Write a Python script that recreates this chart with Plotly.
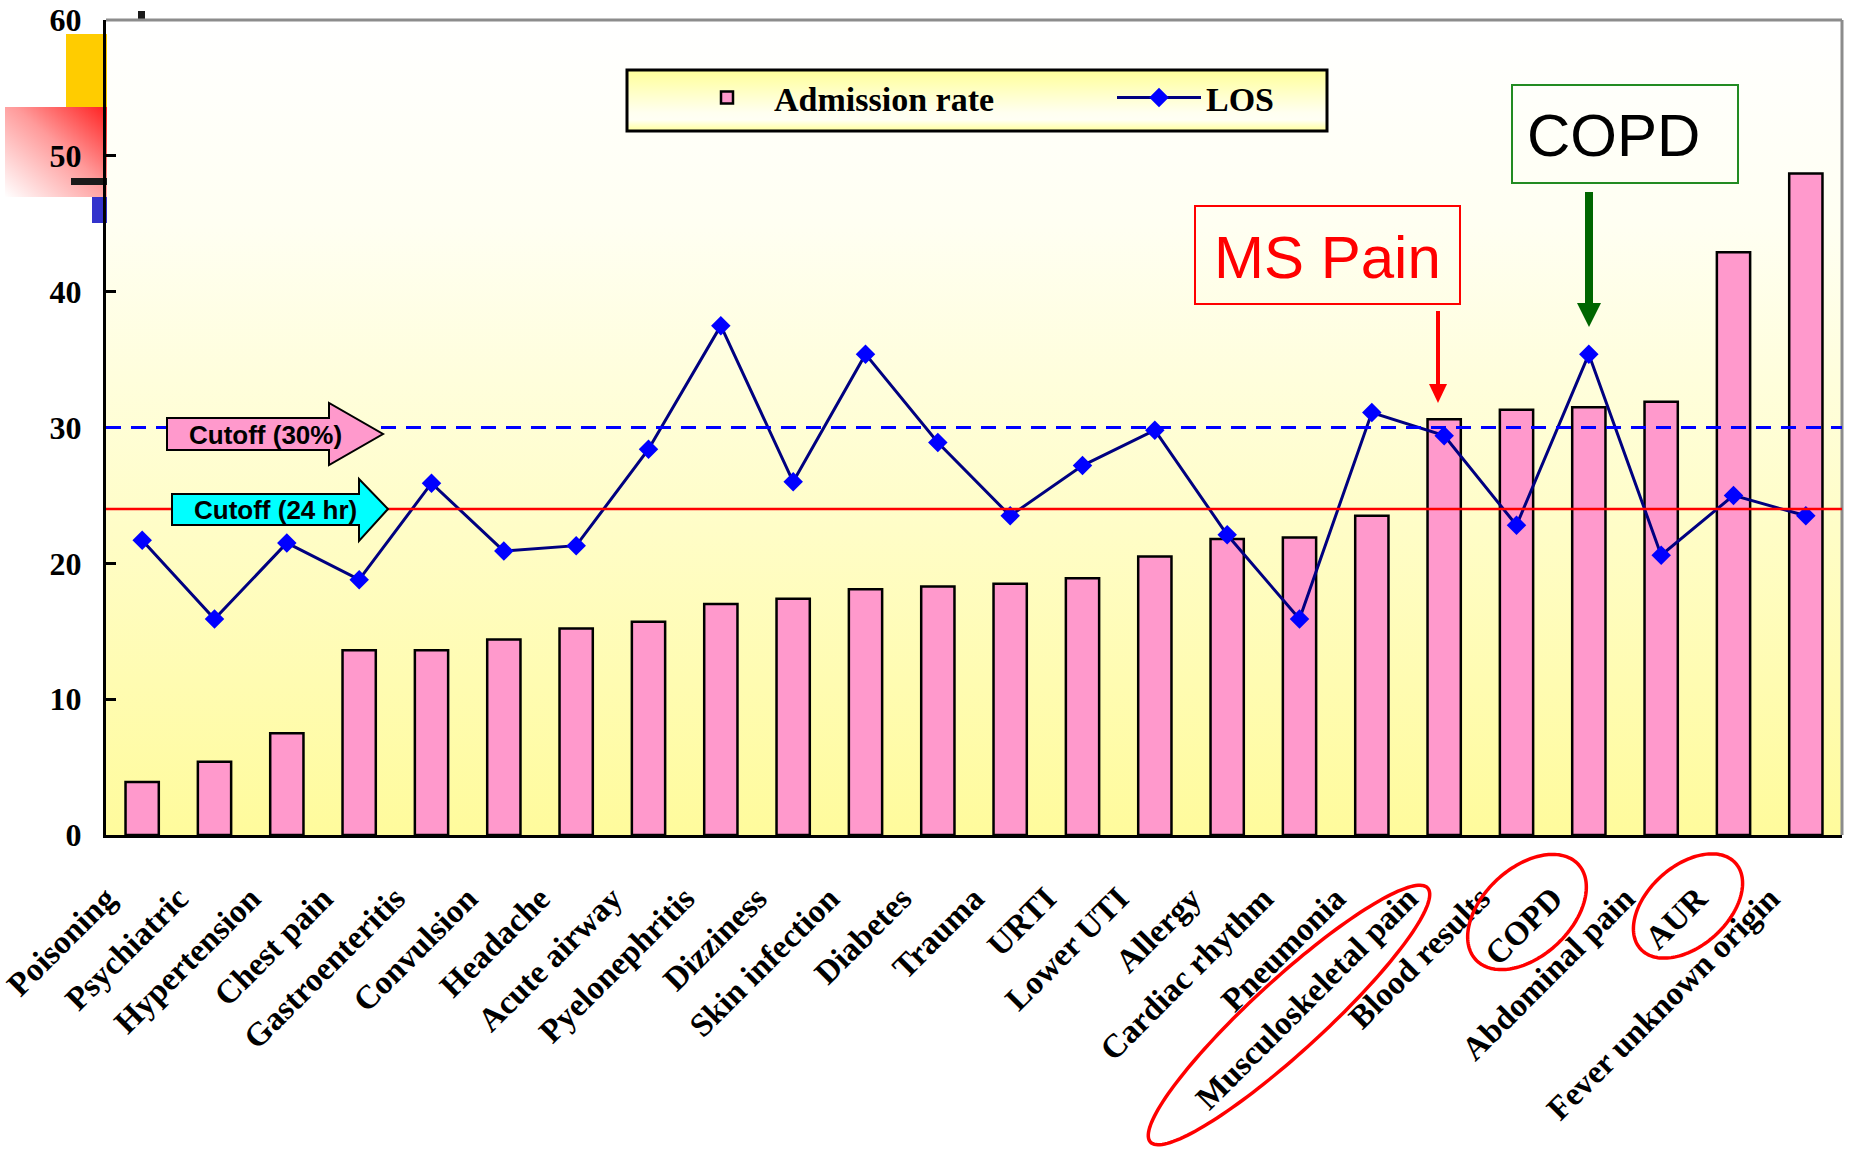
import base64
import numpy as np
import plotly.graph_objects as go

# ---------------- data ----------------
categories = [
    "Poisoning", "Psychiatric", "Hypertension", "Chest pain", "Gastroenteritis",
    "Convulsion", "Headache", "Acute airway", "Pyelonephritis", "Dizziness",
    "Skin infection", "Diabetes", "Trauma", "URTI", "Lower UTI", "Allergy",
    "Cardiac rhythm", "Pneumonia", "Musculoskeletal pain", "Blood results",
    "COPD", "Abdominal pain", "AUR", "Fever unknown origin",
]
admission_rate = [3.9, 5.4, 7.5, 13.6, 13.6, 14.4, 15.2, 15.7, 17.0, 17.4, 18.1, 18.3,
                  18.5, 18.9, 20.5, 21.8, 21.9, 23.5, 30.6, 31.3, 31.5, 31.9, 42.9, 48.7]
los_hours = [21.7, 15.9, 21.5, 18.8, 25.9, 20.9, 21.3, 28.4, 37.5, 26.0, 35.4, 28.9,
             23.5, 27.2, 29.8, 22.1, 15.9, 31.1, 29.4, 22.8, 35.4, 20.6, 25.0, 23.5]
cutoff_rate = 30
cutoff_hours = 24
y_ticks = [0, 10, 20, 30, 40, 50, 60]

# ---------------- canvas geometry (pixels) ----------------
W, H = 1854, 1153
ML, MR, MT, MB = 106, 12, 20, 318
PW, PH = W - ML - MR, H - MT - MB


def px(x):
    return (x - ML) / PW


def py(y):
    return (H - MB - y) / PH


def svg_uri(body):
    svg = ('<svg xmlns="http://www.w3.org/2000/svg" width="100" height="100" '
           'viewBox="0 0 100 100" preserveAspectRatio="none">' + body + '</svg>')
    return "data:image/svg+xml;base64," + base64.b64encode(svg.encode()).decode()


def poly(points):
    pts = [f"{px(x):.5f},{py(y):.5f}" for x, y in points]
    return "M " + " L ".join(pts) + " Z"


def ellipse(cx, cy, a, b, deg, n=160):
    t = np.linspace(0, 2 * np.pi, n, endpoint=False)
    th = np.radians(deg)
    xs = cx + a * np.cos(t) * np.cos(th) - b * np.sin(t) * np.sin(th)
    ys = cy - a * np.cos(t) * np.sin(th) - b * np.sin(t) * np.cos(th)
    return poly(zip(xs, ys))


SERIF = "Liberation Serif"
SANS = "Liberation Sans"

# ---------------- gradient fills ----------------
plot_bg = svg_uri(
    '<defs><linearGradient id="g" x1="0" y1="0" x2="0" y2="1">'
    '<stop offset="0" stop-color="#FFFFFF"/><stop offset="0.25" stop-color="#FFFFF2"/>'
    '<stop offset="1" stop-color="#FFFB9C"/></linearGradient></defs>'
    '<rect width="100" height="100" fill="url(#g)"/>')
legend_bg = svg_uri(
    '<defs><linearGradient id="g" x1="0" y1="0" x2="0" y2="1">'
    '<stop offset="0" stop-color="#FFFF99"/><stop offset="0.7" stop-color="#FFFFF0"/>'
    '<stop offset="0.82" stop-color="#FFFFF4"/><stop offset="1" stop-color="#FFFF99"/>'
    '</linearGradient></defs><rect width="100" height="100" fill="url(#g)"/>')
corner_bg = svg_uri(
    '<defs><linearGradient id="g" x1="1" y1="0" x2="0" y2="1">'
    '<stop offset="0" stop-color="#FF2020"/><stop offset="0.45" stop-color="#FF9A9A"/>'
    '<stop offset="1" stop-color="#FFFFFF"/></linearGradient></defs>'
    '<rect width="100" height="100" fill="url(#g)"/>')

images = [
    dict(source=plot_bg, xref="paper", yref="paper", x=0, y=1, sizex=1, sizey=1,
         xanchor="left", yanchor="top", sizing="stretch", layer="below"),
    dict(source=corner_bg, xref="paper", yref="paper", x=px(5), y=py(107),
         sizex=px(107) - px(5), sizey=py(107) - py(197),
         xanchor="left", yanchor="top", sizing="stretch", layer="below"),
    dict(source=legend_bg, xref="paper", yref="paper", x=px(627), y=py(70),
         sizex=px(1327) - px(627), sizey=py(70) - py(131),
         xanchor="left", yanchor="top", sizing="stretch", layer="above"),
]

# ---------------- traces ----------------
fig = go.Figure()
fig.add_trace(go.Bar(
    x=categories, y=admission_rate, name="Admission rate", width=0.46,
    marker=dict(color="#FF99CC", line=dict(color="black", width=2.5)),
))
fig.add_trace(go.Scatter(
    x=categories, y=los_hours, name="LOS", mode="lines+markers",
    line=dict(color="#000080", width=3),
    marker=dict(symbol="diamond", size=15, color="#0000FF", line=dict(width=0)),
))

# ---------------- shapes ----------------
shapes = [
    # slide decoration at the top-left corner
    dict(type="rect", xref="paper", yref="paper", x0=px(66), x1=px(107), y0=py(107), y1=py(34),
         fillcolor="#FFCC00", line=dict(width=0), layer="below"),
    dict(type="rect", xref="paper", yref="paper", x0=px(71), x1=px(107), y0=py(185), y1=py(178),
         fillcolor="#1A1A1A", line=dict(width=0), layer="below"),
    dict(type="rect", xref="paper", yref="paper", x0=px(92), x1=px(107), y0=py(223), y1=py(197),
         fillcolor="#3333CC", line=dict(width=0), layer="below"),
    dict(type="rect", xref="paper", yref="paper", x0=px(138), x1=px(145), y0=py(20), y1=py(11),
         fillcolor="#1A1A1A", line=dict(width=0), layer="below"),
    # grey frame on top and right of the plot area
    dict(type="line", xref="paper", yref="paper", x0=0, x1=1, y0=1, y1=1,
         line=dict(color="#8C8C8C", width=3), layer="below"),
    dict(type="line", xref="paper", yref="paper", x0=1, x1=1, y0=0, y1=1,
         line=dict(color="#8C8C8C", width=3), layer="below"),
    # cut-off reference lines
    dict(type="line", xref="paper", yref="y", x0=0, x1=1, y0=cutoff_rate, y1=cutoff_rate,
         line=dict(color="#0000FF", width=3, dash="15px,10px"), layer="above"),
    dict(type="line", xref="paper", yref="y", x0=0, x1=1, y0=cutoff_hours, y1=cutoff_hours,
         line=dict(color="#FF0000", width=2.5), layer="above"),
    # block arrows labelling the cut-offs
    dict(type="path", xref="paper", yref="paper", layer="above",
         path=poly([(167, 418), (329, 418), (329, 403), (383, 434), (329, 465), (329, 450), (167, 450)]),
         fillcolor="#FF99CC", line=dict(color="black", width=2)),
    dict(type="path", xref="paper", yref="paper", layer="above",
         path=poly([(172, 494), (359, 494), (359, 479), (388, 509), (359, 541), (359, 525), (172, 525)]),
         fillcolor="#00FFFF", line=dict(color="black", width=2)),
    # call-out boxes
    dict(type="rect", xref="paper", yref="paper", x0=px(1195), x1=px(1460), y0=py(304), y1=py(206),
         line=dict(color="#FF0000", width=2), layer="above"),
    dict(type="rect", xref="paper", yref="paper", x0=px(1512), x1=px(1738), y0=py(183), y1=py(85),
         line=dict(color="#228B22", width=2), layer="above"),
    # call-out arrows
    dict(type="line", xref="paper", yref="paper", x0=px(1438), x1=px(1438), y0=py(311), y1=py(386),
         line=dict(color="#FF0000", width=4), layer="above"),
    dict(type="path", xref="paper", yref="paper", layer="above",
         path=poly([(1429, 384), (1447, 384), (1438, 403)]),
         fillcolor="#FF0000", line=dict(width=0)),
    dict(type="line", xref="paper", yref="paper", x0=px(1589), x1=px(1589), y0=py(192), y1=py(305),
         line=dict(color="#006600", width=8), layer="above"),
    dict(type="path", xref="paper", yref="paper", layer="above",
         path=poly([(1577, 303), (1601, 303), (1589, 327)]),
         fillcolor="#006600", line=dict(width=0)),
    # legend frame
    dict(type="rect", xref="paper", yref="paper", x0=px(627), x1=px(1327), y0=py(131), y1=py(70),
         line=dict(color="black", width=3), layer="above"),
    # highlighted category labels
    dict(type="path", xref="paper", yref="paper", layer="above",
         path=ellipse(1289, 1015, 188, 36, 42.5), line=dict(color="#FF0000", width=3.5)),
    dict(type="path", xref="paper", yref="paper", layer="above",
         path=ellipse(1527, 912, 70, 44, 43), line=dict(color="#FF0000", width=3.5)),
    dict(type="path", xref="paper", yref="paper", layer="above",
         path=ellipse(1688, 906, 64, 40, 42), line=dict(color="#FF0000", width=3.5)),
]

common = dict(xref="paper", yref="paper", showarrow=False, xanchor="center", yanchor="middle")
annotations = [
    dict(text="Cutoff (30%)", x=px(265), y=py(435),
         font=dict(family=SANS, size=26, color="black", weight="bold"), **common),
    dict(text="Cutoff (24 hr)", x=px(275), y=py(510),
         font=dict(family=SANS, size=26, color="black", weight="bold"), **common),
    dict(text="MS Pain", x=px(1327), y=py(257),
         font=dict(family=SANS, size=60, color="#FF0000"), **common),
    dict(text="COPD", x=px(1613), y=py(136),
         font=dict(family=SANS, size=60, color="black"), **common),
]

fig.update_layout(
    width=W, height=H,
    margin=dict(l=ML, r=MR, t=MT, b=MB, pad=0),
    paper_bgcolor="white", plot_bgcolor="rgba(0,0,0,0)",
    images=images, shapes=shapes, annotations=annotations,
    showlegend=True,
    legend=dict(
        orientation="h", x=px(680), y=py(98), xanchor="left", yanchor="middle",
        bgcolor="rgba(0,0,0,0)", borderwidth=0, itemwidth=84, entrywidth=333,
        font=dict(family=SERIF, size=34, color="black", weight="bold"),
    ),
)
fig.update_xaxes(
    type="category", range=[-0.5, len(categories) - 0.5], showgrid=False, zeroline=False,
    showline=True, linecolor="black", linewidth=3, ticks="", tickangle=-45,
    tickfont=dict(family=SERIF, size=33, color="black", weight="bold"),
    ticklabelstandoff=28, ticklabelshift=-36, automargin=False,
)
fig.update_yaxes(
    range=[0, 60], tickvals=y_ticks, showgrid=False, zeroline=False,
    showline=True, linecolor="black", linewidth=3, ticks="inside", ticklen=10,
    tickwidth=3, tickcolor="black", ticklabelstandoff=15,
    tickfont=dict(family=SERIF, size=32, color="black", weight="bold"),
    automargin=False,
)

fig.write_html("out.html")
